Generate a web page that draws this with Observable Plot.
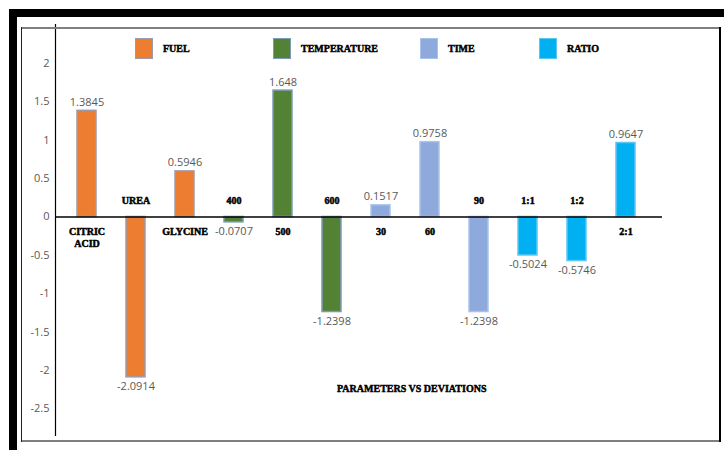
<!DOCTYPE html>
<html><head><meta charset="utf-8">
<script src="https://cdn.jsdelivr.net/npm/d3@7"></script>
<script src="https://cdn.jsdelivr.net/npm/@observablehq/plot@0.6"></script>
<style>
body{margin:0;background:#fff;}
#wrap{position:relative;width:724px;height:450px;overflow:hidden;background:#fff;}
#wrap svg{position:absolute;left:0;top:0;}
.b{position:absolute;}
.lab{font-family:"Liberation Serif",serif;font-weight:bold;font-size:10px;color:#000;-webkit-text-stroke:0.45px #000;white-space:nowrap;}
.item{position:absolute;top:37px;height:22px;display:flex;align-items:center;}
.sw{width:18px;height:21px;box-sizing:border-box;margin-right:10px;}
</style></head><body><div id="wrap"></div>
<script>
// ---- data ----
const categories = ["CITRIC\nACID","UREA","GLYCINE","400","500","600","30","60","90","1:1","1:2","2:1"];
const groups = ["FUEL","FUEL","FUEL","TEMPERATURE","TEMPERATURE","TEMPERATURE","TIME","TIME","TIME","RATIO","RATIO","RATIO"];
const deviations = [1.3845,-2.0914,0.5946,-0.0707,1.648,-1.2398,0.1517,0.9758,-1.2398,-0.5024,-0.5746,0.9647];
const seriesNames = ["FUEL","TEMPERATURE","TIME","RATIO"];
const yTicks = [2,1.5,1,0.5,0,-0.5,-1,-1.5,-2,-2.5];
const xTitle = "PARAMETERS VS DEVIATIONS";

// ---- styles ----
const fills = {FUEL:"#ED7D31", TEMPERATURE:"#548235", TIME:"#8EA9DB", RATIO:"#00B0F0"};
const strokes = {FUEL:"#A09AA8", TEMPERATURE:"#7E9CB4", TIME:"#A9C4EA", RATIO:"#5CC8F2"};

const data = categories.map((c,i)=>({cat:c, group:groups[i], value:deviations[i]}));
const labelFont = "Liberation Serif";

const barMarks = seriesNames.map(s => Plot.barY(data.filter(d=>d.group===s), {
  x:"cat", y:"value", fill:fills[s], stroke:strokes[s], strokeWidth:1.5
}));

const chart = Plot.plot({
  width:724, height:450,
  marginLeft:55, marginRight:62, marginTop:24, marginBottom:15,
  style:{fontFamily:"Open Sans", fontSize:"11px", background:"transparent", overflow:"visible"},
  x:{domain:categories, range:[61.5,650.5], paddingInner:0.61, paddingOuter:0.305, axis:null},
  y:{domain:[-2.85,2.51], axis:null},
  marks:[
    ...barMarks,
    Plot.ruleY([0], {stroke:"#000", strokeWidth:1.5}),
    Plot.frame({anchor:"left", stroke:"#000", strokeWidth:1.2}),
    Plot.axisY({ticks:yTicks, tickFormat:d=>String(d), tickSize:0, tickPadding:6, fill:"#595959", label:null, fontSize:11}),
    // value labels
    Plot.text(data.filter(d=>d.value>=0), {x:"cat", y:"value", text:d=>String(d.value), lineAnchor:"bottom", dy:-5, fill:"#595959", fontSize:11}),
    Plot.text(data.filter(d=>d.value<0), {x:"cat", y:"value", text:d=>String(d.value), lineAnchor:"top", dy:5, fill:"#595959", fontSize:11}),
    // category labels
    Plot.text(data.filter(d=>d.value>=0), {x:"cat", y:()=>0, text:"cat", lineAnchor:"top", dy:10, fill:"#000", stroke:"#000", strokeWidth:0.5, fontWeight:"bold", fontFamily:labelFont, fontSize:10, lineHeight:1.2}),
    Plot.text(data.filter(d=>d.value<0), {x:"cat", y:()=>0, text:"cat", lineAnchor:"bottom", dy:-13, fill:"#000", stroke:"#000", strokeWidth:0.5, fontWeight:"bold", fontFamily:labelFont, fontSize:10})
  ]
});

const wrap = document.getElementById("wrap");
wrap.appendChild(chart);

function box(l,t,w,h,bg){const d=document.createElement("div");d.className="b";Object.assign(d.style,{left:l+"px",top:t+"px",width:w+"px",height:h+"px",background:bg});wrap.appendChild(d);}
// outer black border and inner frame
box(9,9,715,8,"#000");
box(9,9,8,441,"#000");
box(21,27,699,1.5,"#7f7f7f");
box(21,440,699,1.5,"#7f7f7f");
box(20.5,27,1.5,415,"#222");
box(719,27,2,415,"#000");

// legend
const legendLefts = [135,273,420,539];
seriesNames.forEach((s,i)=>{
  const it=document.createElement("div"); it.className="item"; it.style.left=legendLefts[i]+"px";
  const sw=document.createElement("div"); sw.className="sw"; sw.style.background=fills[s]; sw.style.border="1px solid "+strokes[s];
  const tx=document.createElement("span"); tx.className="lab"; tx.textContent=s;
  it.appendChild(sw); it.appendChild(tx); wrap.appendChild(it);
});

// x axis title
const tt=document.createElement("div"); tt.className="b lab"; tt.textContent=xTitle;
Object.assign(tt.style,{left:"337px",top:"383px"});
wrap.appendChild(tt);
</script></body></html>
